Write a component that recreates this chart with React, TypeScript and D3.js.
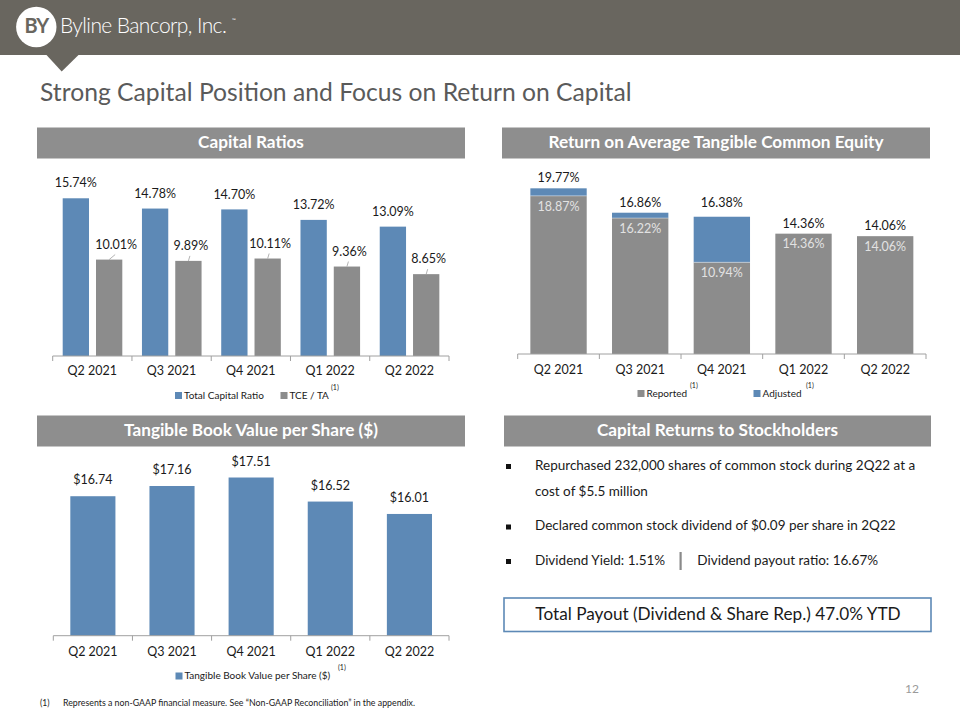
import React from 'react';
import * as d3 from 'd3';

const quarters = ['Q2 2021', 'Q3 2021', 'Q4 2021', 'Q1 2022', 'Q2 2022'];
const totalCapitalRatio = [15.74, 14.78, 14.7, 13.72, 13.09];
const tceTa = [10.01, 9.89, 10.11, 9.36, 8.65];
const roatceReported = [18.87, 16.22, 10.94, 14.36, 14.06];
const roatceAdjusted = [19.77, 16.86, 16.38, 14.36, 14.06];
const tbvps = [16.74, 17.16, 17.51, 16.52, 16.01];
const bulletLines = [
  ['Repurchased 232,000 shares of common stock during 2Q22 at a', 'cost of $5.5 million'],
  ['Declared common stock dividend of $0.09 per share in 2Q22'],
];
const yieldText = 'Dividend Yield: 1.51%';
const payoutText = 'Dividend payout ratio: 16.67%';
const totalPayoutText = 'Total Payout (Dividend & Share Rep.) 47.0% YTD';

const BLUE = '#5d89b6';
const GRAY = '#8c8c8c';
const HEADER_GRAY = '#8e8e8e';
const AXIS = '#a0a0a0';
const FONT = 'Lato, "Open Sans", sans-serif';
const TXT = '#1a1a1a';

const pct = (v: number) => v.toFixed(2) + '%';
const usd = (v: number) => '$' + v.toFixed(2);

function SectionHeader({ x, y, w, h, text }: { x: number; y: number; w: number; h: number; text: string }) {
  return (
    <g>
      <rect x={x} y={y} width={w} height={h} fill={HEADER_GRAY} />
      <text x={x + w / 2} y={y + h / 2 + 1} textAnchor="middle" dominantBaseline="middle" fill="#fff" fontSize={17.2} fontWeight={700} fontFamily={FONT}>
        {text}
      </text>
    </g>
  );
}

function Axis({ x0, x1, y, n, labelY }: { x0: number; x1: number; y: number; n: number; labelY: number }) {
  const step = (x1 - x0) / n;
  const ticks = d3.range(n + 1).map((i) => x0 + i * step);
  return (
    <g>
      <line x1={x0} x2={x1} y1={y} y2={y} stroke={AXIS} strokeWidth={1} />
      {ticks.map((t, i) => (
        <line key={i} x1={t} x2={t} y1={y} y2={y + 5} stroke={AXIS} strokeWidth={1} />
      ))}
      {quarters.map((q, i) => (
        <text key={q} x={x0 + step * (i + 0.5)} y={labelY} textAnchor="middle" dominantBaseline="middle" fontSize={12.5} fill={TXT} fontFamily={FONT}>
          {q}
        </text>
      ))}
    </g>
  );
}

function LegendItem({ x, y, color, label, sup, supX }: { x: number; y: number; color: string; label: string; sup?: boolean; supX?: number }) {
  return (
    <g>
      <rect x={x} y={y - 4} width={7} height={7} fill={color} />
      <text x={x + 9} y={y} dominantBaseline="middle" fontSize={10} fill={TXT} fontFamily={FONT}>
        {label}
      </text>
      {sup && (
        <text x={supX} y={y - 8} dominantBaseline="middle" fontSize={7} fill={TXT} fontFamily={FONT}>
          (1)
        </text>
      )}
    </g>
  );
}

function CapitalRatios() {
  const x0 = d3.scaleBand<string>().domain(quarters).range([52.7, 449]).padding(0);
  const x1 = d3.scaleBand<string>().domain(['tcr', 'tce']).range([10, 69.6]).paddingInner(0.21).paddingOuter(0);
  const y = d3.scaleLinear().domain([1, 16]).range([356, 195.5]);
  return (
    <g>
      {quarters.map((q, i) => {
        const bx = (x0(q) as number) + (x1('tcr') as number);
        const gx = (x0(q) as number) + (x1('tce') as number);
        const bw = x1.bandwidth();
        const ty = y(totalCapitalRatio[i]);
        const gy = y(tceTa[i]);
        const gcx = gx + bw / 2;
        return (
          <g key={q}>
            <rect x={bx} y={ty} width={bw} height={y(1) - ty} fill={BLUE} />
            <rect x={gx} y={gy} width={bw} height={y(1) - gy} fill={GRAY} />
            <text x={bx + bw / 2} y={ty - 14} textAnchor="middle" dominantBaseline="middle" fontSize={12.5} fill={TXT} fontFamily={FONT}>
              {pct(totalCapitalRatio[i])}
            </text>
            <line x1={gcx} y1={gy} x2={gcx + (i === 0 ? 6 : 1.5)} y2={gy - 5} stroke={AXIS} strokeWidth={0.8} />
            <text x={gcx + (i === 0 ? 7 : 2.5)} y={gy - 14} textAnchor="middle" dominantBaseline="middle" fontSize={12.5} fill={TXT} fontFamily={FONT}>
              {pct(tceTa[i])}
            </text>
          </g>
        );
      })}
      <Axis x0={52.7} x1={449} y={356} n={5} labelY={371.5} />
      <LegendItem x={175} y={396} color={BLUE} label="Total Capital Ratio" />
      <LegendItem x={280.5} y={396} color={GRAY} label="TCE / TA" sup supX={331} />
    </g>
  );
}

function Roatce() {
  const x = d3.scaleBand<string>().domain(quarters).range([517.7, 926]).paddingInner(0.31).paddingOuter(0.155);
  const y = d3.scaleLinear().domain([0, 20]).range([354, 354 - 167.6]);
  return (
    <g>
      {quarters.map((q, i) => {
        const bx = x(q) as number;
        const bw = x.bandwidth();
        const ry = y(roatceReported[i]);
        const ay = y(roatceAdjusted[i]);
        return (
          <g key={q}>
            <rect x={bx} y={ry} width={bw} height={y(0) - ry} fill={GRAY} />
            {roatceAdjusted[i] > roatceReported[i] && (
              <rect x={bx} y={ay} width={bw} height={ry - ay} fill={BLUE} />
            )}
            {roatceAdjusted[i] > roatceReported[i] && (
              <line x1={bx} x2={bx + bw} y1={ry} y2={ry} stroke="#ffffff" strokeOpacity={0.5} strokeWidth={0.8} />
            )}
            <text x={bx + bw / 2} y={ay - (i === 2 ? 12.5 : 9)} textAnchor="middle" dominantBaseline="middle" fontSize={12.5} fill={TXT} fontFamily={FONT}>
              {pct(roatceAdjusted[i])}
            </text>
            <text x={bx + bw / 2} y={ry + 11.5} textAnchor="middle" dominantBaseline="middle" fontSize={12.5} fill="#e2e2e2" fontFamily={FONT}>
              {pct(roatceReported[i])}
            </text>
          </g>
        );
      })}
      <Axis x0={517.7} x1={926} y={354} n={5} labelY={370.5} />
      <LegendItem x={637.5} y={394} color={GRAY} label="Reported" sup supX={690} />
      <LegendItem x={753.5} y={394} color={BLUE} label="Adjusted" sup supX={806} />
    </g>
  );
}

function Tbv() {
  const x = d3.scaleBand<string>().domain(quarters).range([53.3, 449]).paddingInner(0.43).paddingOuter(0.215);
  const y = d3.scaleLinear().domain([11, 18]).range([635.7, 635.7 - 170.1]);
  return (
    <g>
      {quarters.map((q, i) => {
        const bx = x(q) as number;
        const bw = x.bandwidth();
        const ty = y(tbvps[i]);
        return (
          <g key={q}>
            <rect x={bx} y={ty} width={bw} height={y(11) - ty} fill={BLUE} />
            <text x={bx + bw / 2} y={ty - 15} textAnchor="middle" dominantBaseline="middle" fontSize={12.5} fill={TXT} fontFamily={FONT}>
              {usd(tbvps[i])}
            </text>
          </g>
        );
      })}
      <Axis x0={53.3} x1={449} y={635.7} n={5} labelY={652.5} />
      <LegendItem x={175.5} y={676.5} color={BLUE} label="Tangible Book Value per Share ($)" sup supX={338} />
    </g>
  );
}

function CapitalReturns() {
  const lineYs = [466.7, 492.7, 527];
  return (
    <g fontFamily={FONT} fill={TXT}>
      <rect x={506} y={464} width={5} height={5} fill="#111" />
      <text x={535} y={lineYs[0]} dominantBaseline="middle" fontSize={13.5}>{bulletLines[0][0]}</text>
      <text x={535} y={lineYs[1]} dominantBaseline="middle" fontSize={13.5}>{bulletLines[0][1]}</text>
      <rect x={506} y={524.5} width={5} height={5} fill="#111" />
      <text x={535} y={lineYs[2]} dominantBaseline="middle" fontSize={13.5}>{bulletLines[1][0]}</text>
      <rect x={506} y={559} width={5} height={5} fill="#111" />
      <text x={535} y={561.7} dominantBaseline="middle" fontSize={13.5}>{yieldText}</text>
      <rect x={679.5} y={552} width={2.2} height={18} fill="#8a8a8a" />
      <text x={697.3} y={561.7} dominantBaseline="middle" fontSize={13.5}>{payoutText}</text>
      <rect x={504} y={598} width={427} height={33.5} fill="#fff" stroke={BLUE} strokeWidth={1.6} />
      <text x={718} y={615.5} textAnchor="middle" dominantBaseline="middle" fontSize={17.2}>{totalPayoutText}</text>
    </g>
  );
}

export default function App() {
  return (
    <svg width={960} height={720} style={{ position: 'absolute', left: 0, top: 0, background: '#fff' }} fontFamily={FONT}>
      <rect x={0} y={0} width={960} height={720} fill="#fff" />
      <rect x={0} y={0} width={960} height={55} fill="#69665f" />
      <path d="M46.5,55 L78.5,55 L61.7,71.5 Z" fill="#69665f" />
      <circle cx={36.3} cy={27} r={20.2} fill="#fff" />
      <text x={36.3} y={28} textAnchor="middle" dominantBaseline="middle" fontSize={20} fontWeight={700} fill="#69665f" fontFamily={FONT} letterSpacing={-1}>
        BY
      </text>
      <text x={60} y={28} dominantBaseline="middle" fontSize={21} fill="#fff" fontFamily={FONT} fontWeight={300} letterSpacing={-0.6}>
        Byline Bancorp, Inc.
      </text>
      <text x={232} y={22} fontSize={5} fill="#fff" fontFamily={FONT}>™</text>

      <text x={40} y={95} dominantBaseline="middle" fontSize={24.7} fill="#5a5a5a" fontFamily={FONT}>
        Strong Capital Position and Focus on Return on Capital
      </text>

      <SectionHeader x={37} y={127.5} w={428} h={31} text="Capital Ratios" />
      <SectionHeader x={502} y={127.5} w={428} h={31} text="Return on Average Tangible Common Equity" />
      <SectionHeader x={37} y={415.5} w={428} h={31} text="Tangible Book Value per Share ($)" />
      <SectionHeader x={504} y={415.5} w={427} h={31} text="Capital Returns to Stockholders" />

      <CapitalRatios />
      <Roatce />
      <Tbv />
      <CapitalReturns />

      <text x={905} y={690} dominantBaseline="middle" fontSize={12} fill="#9a9a9a" fontFamily={FONT}>12</text>
      <text x={40} y={703.5} dominantBaseline="middle" fontSize={8.5} fill={TXT} fontFamily={FONT}>(1)</text>
      <text x={63} y={703.5} dominantBaseline="middle" fontSize={8.8} fill={TXT} fontFamily={FONT}>
        Represents a non-GAAP financial measure.  See “Non-GAAP Reconciliation” in the appendix.
      </text>
    </svg>
  );
}
